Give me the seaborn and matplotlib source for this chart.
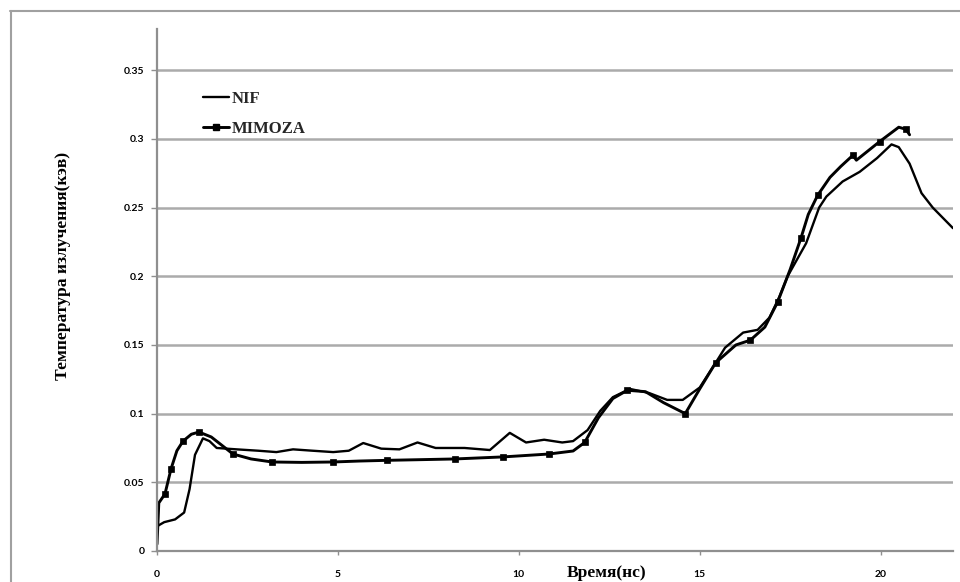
import matplotlib
matplotlib.use("Agg")
import matplotlib.pyplot as plt
import seaborn as sns
from matplotlib.lines import Line2D

# ---------------- data ----------------
nif_x = [0.0, 0.2, 0.5, 0.75, 0.9, 1.05, 1.27, 1.45, 1.65, 2.2, 2.8, 3.3, 3.76,
         4.3, 4.87, 5.3, 5.7, 6.2, 6.7, 7.2, 7.7, 8.5, 9.2, 9.75, 10.2, 10.7,
         11.2, 11.5, 11.9, 12.25, 12.6, 13.07, 13.6, 14.1, 14.53, 15.0, 15.44,
         15.7, 16.2, 16.6, 16.93, 17.2, 17.43, 17.94, 18.3, 18.5, 18.95, 19.42,
         19.9, 20.3, 20.5, 20.8, 21.13, 21.44, 22.0]
nif_y = [0.018, 0.021, 0.023, 0.028, 0.045, 0.070, 0.082, 0.080, 0.075, 0.074,
         0.073, 0.072, 0.074, 0.073, 0.072, 0.073, 0.0786, 0.0745, 0.074, 0.079,
         0.075, 0.075, 0.0735, 0.086, 0.079, 0.081, 0.079, 0.080, 0.088, 0.102,
         0.112, 0.118, 0.115, 0.110, 0.110, 0.119, 0.137, 0.148, 0.159, 0.161,
         0.170, 0.185, 0.200, 0.224, 0.250, 0.258, 0.269, 0.276, 0.286, 0.296,
         0.294, 0.282, 0.2605, 0.250, 0.235]

mimoza_x = [0.0, 0.05, 0.22, 0.39, 0.55, 0.72, 0.95, 1.16, 1.5, 2.1, 2.6, 3.18,
            4.0, 4.87, 5.6, 6.35, 7.3, 8.23, 9.57, 10.83, 11.5, 11.82, 12.2,
            12.6, 13.0, 13.5, 14.0, 14.6, 15.0, 15.44, 16.0, 16.4, 16.8, 17.15,
            17.5, 17.8, 18.0, 18.26, 18.6, 18.9, 19.23, 19.33, 19.97, 20.5,
            20.7, 20.8]
mimoza_y = [0.005, 0.035, 0.0415, 0.060, 0.073, 0.080, 0.085, 0.0866, 0.083,
            0.0706, 0.067, 0.0648, 0.0645, 0.0648, 0.0655, 0.066, 0.0665, 0.067,
            0.0685, 0.0706, 0.0728, 0.079, 0.097, 0.111, 0.117, 0.116, 0.108,
            0.100, 0.118, 0.137, 0.150, 0.1535, 0.163, 0.181, 0.205, 0.228,
            0.245, 0.259, 0.272, 0.280, 0.288, 0.2845, 0.298, 0.3085, 0.307,
            0.303]
mimoza_marker_idx = [2, 3, 5, 7, 9, 11, 13, 15, 17, 18, 19, 21, 24, 27, 29, 31,
                     33, 35, 37, 40, 42, 44]

y_ticks = [0, 0.05, 0.1, 0.15, 0.2, 0.25, 0.3, 0.35]
y_tick_labels = ["0", "0.05", "0.1", "0.15", "0.2", "0.25", "0.3", "0.35"]
x_ticks = [0, 5, 10, 15, 20]
x_tick_labels = ["0", "5", "10", "15", "20"]

series_names = ["NIF", "MIMOZA"]
x_label = "Время(нс)"
y_label = "Температура излучения(кэв)"

# ---------------- figure ----------------
sns.set_theme(style="white")
plt.rcParams["font.family"] = ["Liberation Serif", "DejaVu Serif"]

fig = plt.figure(figsize=(9.6, 5.82), dpi=100)
ax = fig.add_axes([157 / 960, 31 / 582, 796 / 960, 522 / 582])

line_style = dict(solid_joinstyle="round", solid_capstyle="round")
sns.lineplot(x=nif_x, y=nif_y, ax=ax, color="black", linewidth=1.7,
             sort=False, estimator=None, **line_style)
sns.lineplot(x=mimoza_x, y=mimoza_y, ax=ax, color="black", linewidth=2.1,
             marker="s", markersize=4.8, markevery=mimoza_marker_idx,
             markeredgecolor="black", markeredgewidth=0.5,
             sort=False, estimator=None, **line_style)

ax.set_xlim(0, 22)
ax.set_ylim(0, 0.38)

grey = "#8f8f8f"
ax.set_yticks(y_ticks)
ax.set_yticklabels(y_tick_labels, fontfamily="Lato", fontweight="bold",
                   fontsize=7.5)
ax.set_xticks(x_ticks)
ax.set_xticklabels(x_tick_labels, fontfamily="Lato", fontweight="bold",
                   fontsize=7.5)
ax.yaxis.grid(True, color="#ababab", linewidth=1.8)
ax.xaxis.grid(False)
ax.set_axisbelow(True)

for s in ["top", "right"]:
    ax.spines[s].set_visible(False)
for s in ["left", "bottom"]:
    ax.spines[s].set_color(grey)
    ax.spines[s].set_linewidth(1.6)

ax.tick_params(axis="y", left=True, length=4, width=1, color=grey, pad=5,
               labelcolor="black")
ax.tick_params(axis="x", bottom=True, length=3, width=1, color=grey, pad=11,
               labelcolor="black")

ax.set_xlabel(x_label, fontsize=12.5, fontweight="bold", color="black")
ax.xaxis.set_label_coords((607 - 157) / 796, (551 - 573) / 522)
ax.xaxis.label.set_va("center")
ax.set_ylabel(y_label, fontsize=12.6, fontweight="bold", color="black")
ax.yaxis.set_label_coords((63 - 157) / 796, (551 - 266) / 522)
ax.yaxis.label.set_va("center")

handles = [
    Line2D([], [], color="black", linewidth=1.7),
    Line2D([], [], color="black", linewidth=2.1, marker="s", markersize=4.8),
]
ax.legend(handles, series_names, loc="upper left",
          bbox_to_anchor=((203 - 157) / 796, (551 - 91) / 522),
          frameon=False, borderpad=0, borderaxespad=0, handlelength=1.55,
          handletextpad=0.15, labelspacing=0.85,
          prop={"family": "Liberation Serif", "weight": "bold", "size": 12})

# outer grey frame of the picture
fig.add_artist(Line2D([10.5 / 960, 10.5 / 960], [0, 1 - 11 / 582],
                      transform=fig.transFigure, color="#a0a0a0", lw=1.5))
fig.add_artist(Line2D([10 / 960, 1], [1 - 11 / 582, 1 - 11 / 582],
                      transform=fig.transFigure, color="#a0a0a0", lw=1.5))

fig.savefig("out.png", dpi=100, facecolor="white")
